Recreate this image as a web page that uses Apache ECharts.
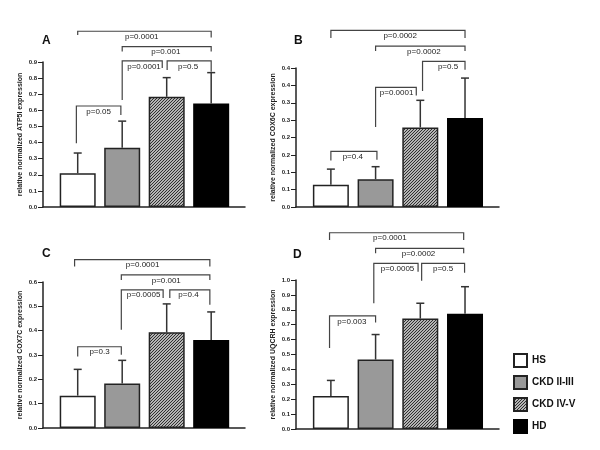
<!DOCTYPE html>
<html><head><meta charset="utf-8">
<script src="https://cdn.jsdelivr.net/npm/echarts@6/dist/echarts.min.js"></script>
<style>html,body{margin:0;padding:0;background:#fff}#c{width:600px;height:450px}</style>
</head><body><div id="c"></div>
<script>
const groups = ['HS', 'CKD II-III', 'CKD IV-V', 'HD'];
const panelLetters = ['A', 'B', 'C', 'D'];
const yTitles = [
  'relative normalized ATP5I expression',
  'relative normalized COX6C expression',
  'relative normalized COX7C expression',
  'relative normalized UQCRH expression'
];
// means and upper error limits (mean + SD)
const meanA = [0.21, 0.367, 0.684, 0.642];
const errA  = [0.335, 0.533, 0.803, 0.834];
const meanB = [0.064, 0.080, 0.229, 0.256];
const errB  = [0.109, 0.116, 0.307, 0.371];
const meanC = [0.133, 0.183, 0.393, 0.362];
const errC  = [0.241, 0.278, 0.510, 0.477];
const meanD = [0.221, 0.466, 0.741, 0.774];
const errD  = [0.326, 0.634, 0.844, 0.955];
// y axis ranges
const yMax = [0.9, 0.4, 0.6, 1.0];
const yStep = [0.1, 0.05, 0.1, 0.1];
const tickLabelsA = ['0.0','0.1','0.2','0.3','0.4','0.5','0.6','0.7','0.8','0.9'];
const tickLabelsB = ['0.0','0.1','0.1','0.2','0.2','0.3','0.3','0.4','0.4'];
const tickLabelsC = ['0.0','0.1','0.2','0.3','0.4','0.5','0.6'];
const tickLabelsD = ['0.0','0.1','0.2','0.3','0.4','0.5','0.6','0.7','0.8','0.9','1.0'];
// significance brackets: [xLeft, xRight, yBar, yLeftLegEnd, yRightLegEnd, xText]
const bracketsA = [[0,3,1.091,1.067,1.052,1.44],[1,3,0.996,0.965,0.965,1.98],[1,1.90,0.907,0.664,0.863,1.49],[2.01,3,0.907,0.851,0.840,2.48],[-0.03,0.97,0.627,0.396,0.571,0.47]];
const pA = ['p=0.0001','p=0.001','p=0.0001','p=0.5','p=0.05'];
const bracketsB = [[0,3,0.508,0.486,0.486,1.55],[1,3,0.463,0.449,0.449,2.08],[2.05,3,0.419,0.334,0.395,2.62],[1,1.91,0.344,0.230,0.321,1.47],[0,1.03,0.160,0.134,0.136,0.49]];
const pB = ['p=0.0002','p=0.0002','p=0.5','p=0.0001','p=0.4'];
const bracketsC = [[-0.07,2.97,0.692,0.664,0.664,1.46],[0.98,2.97,0.629,0.608,0.608,1.99],[0.98,1.92,0.568,0.404,0.534,1.48],[2.07,2.97,0.568,0.534,0.507,2.49],[0,0.98,0.334,0.294,0.301,0.49]];
const pC = ['p=0.0001','p=0.001','p=0.0005','p=0.4','p=0.3'];
const bracketsD = [[-0.03,2.97,1.317,1.268,1.268,1.32],[1,2.97,1.212,1.179,1.179,1.96],[0.96,1.95,1.112,0.844,1.056,1.49],[2.03,2.99,1.112,0.995,1.049,2.51],[-0.03,1.0,0.759,0.543,0.714,0.47]];
const pD = ['p=0.0001','p=0.0002','p=0.0005','p=0.5','p=0.003'];

const means = [meanA, meanB, meanC, meanD];
const errs = [errA, errB, errC, errD];
const tickLabels = [tickLabelsA, tickLabelsB, tickLabelsC, tickLabelsD];
const brackets = [bracketsA, bracketsB, bracketsC, bracketsD];
const pLabels = [pA, pB, pC, pD];

const FONT = '"Liberation Sans", Arial, sans-serif';

function hatch() {
  const c = document.createElement('canvas');
  c.width = 3; c.height = 3;
  const g = c.getContext('2d');
  g.fillStyle = '#b4b4b4'; g.fillRect(0, 0, 3, 3);
  g.fillStyle = '#303030';
  for (let i = 0; i < 3; i++) g.fillRect(2 - i, i, 1, 1);
  return c;
}
const groupStyles = [
  { color: '#ffffff', borderColor: '#222', borderWidth: 1.5 },
  { color: '#999999', borderColor: '#222', borderWidth: 1.5 },
  { color: { image: hatch(), repeat: 'repeat' }, borderColor: '#222', borderWidth: 1.5 },
  { color: '#000000', borderColor: '#000', borderWidth: 1.5 }
];

const grids = [
  { left: 43, top: 62, width: 202, height: 145 },
  { left: 296, top: 68, width: 203, height: 139 },
  { left: 43, top: 282, width: 202, height: 146 },
  { left: 296, top: 280, width: 203, height: 149 }
];

const xAxes = grids.map((g, i) => ({
  type: 'value', gridIndex: i, min: -0.78, max: 3.76,
  axisLine: { show: true, onZero: false, lineStyle: { color: '#222', width: 1.5 } },
  axisTick: { show: false }, axisLabel: { show: false }, splitLine: { show: false }
}));
const yAxes = grids.map((g, i) => ({
  type: 'value', gridIndex: i, min: 0, max: yMax[i], interval: yStep[i],
  name: yTitles[i], nameLocation: 'middle', nameRotate: 90, nameGap: 19,
  nameTextStyle: { fontSize: 7, fontWeight: 'bold', fontFamily: FONT, color: '#222' },
  axisLine: { show: true, onZero: false, lineStyle: { color: '#222', width: 1.5 } },
  axisTick: { show: true, length: 5, lineStyle: { color: '#222', width: 1 } },
  axisLabel: {
    fontSize: 6, fontWeight: 'bold', fontFamily: FONT, color: '#222', margin: 6,
    formatter: v => tickLabels[i][Math.round(v / yStep[i])]
  },
  splitLine: { show: false }
}));

const series = [];
for (let p = 0; p < 4; p++) {
  for (let g = 0; g < 4; g++) {
    series.push({
      type: 'bar', name: groups[g], xAxisIndex: p, yAxisIndex: p,
      barWidth: 36, barGap: '-100%', silent: true,
      itemStyle: groupStyles[g],
      data: [[g, means[p][g]]]
    });
  }
  series.push({
    type: 'custom', xAxisIndex: p, yAxisIndex: p, z: 4, silent: true, clip: false,
    data: means[p].map((m, g) => [g, m, errs[p][g]]),
    renderItem: (params, api) => {
      const a = api.coord([api.value(0), api.value(1)]);
      const b = api.coord([api.value(0), api.value(2)]);
      const st = { stroke: '#333', lineWidth: 1.5 };
      return { type: 'group', children: [
        { type: 'line', shape: { x1: a[0], y1: a[1], x2: b[0], y2: b[1] }, style: st },
        { type: 'line', shape: { x1: b[0] - 4, y1: b[1], x2: b[0] + 4, y2: b[1] }, style: st }
      ]};
    }
  });
  series.push({
    type: 'custom', xAxisIndex: p, yAxisIndex: p, z: 5, silent: true, clip: false,
    data: brackets[p],
    renderItem: (params, api) => {
      const v = i => api.value(i);
      const L1 = api.coord([v(0), v(3)]), L0 = api.coord([v(0), v(2)]);
      const R0 = api.coord([v(1), v(2)]), R1 = api.coord([v(1), v(4)]);
      const T = api.coord([v(5), v(2)]);
      return { type: 'group', children: [
        { type: 'polyline', shape: { points: [L1, L0, R0, R1] },
          style: { stroke: '#444', lineWidth: 1.2, fill: null } },
        { type: 'text', x: T[0], y: T[1] + 5.5,
          style: { text: pLabels[p][params.dataIndex], fontSize: 8, fontFamily: FONT,
                   fill: '#222', align: 'center', verticalAlign: 'middle' } }
      ]};
    }
  });
}

const titlePos = [[42, 35], [294, 35], [42, 248], [293, 249]];
const option = {
  animation: false,
  backgroundColor: '#fff',
  title: titlePos.map((t, i) => ({
    text: panelLetters[i], left: t[0], top: t[1], padding: 0,
    textStyle: { fontSize: 12, fontWeight: 'bold', fontFamily: FONT, color: '#111' }
  })),
  legend: {
    data: groups, orient: 'vertical', left: 513, top: 353, padding: 0,
    itemWidth: 13, itemHeight: 13, itemGap: 7, icon: 'rect', selectedMode: false,
    textStyle: { fontSize: 10, fontWeight: 'bold', fontFamily: FONT, color: '#111' }
  },
  grid: grids,
  xAxis: xAxes,
  yAxis: yAxes,
  series: series
};
const chart = echarts.init(document.getElementById('c'), null, { renderer: 'canvas' });
chart.setOption(option);
</script></body></html>
